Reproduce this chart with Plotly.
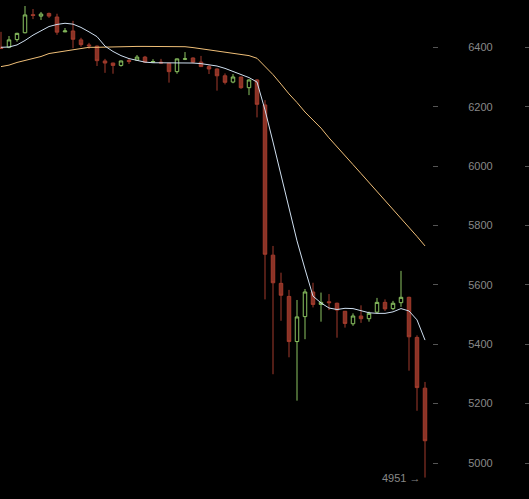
import plotly.graph_objects as go

# candle index positions
idx = list(range(54))

opens = [6400, 6400, 6426, 6449, 6510, 6505, 6514, 6502, 6452, 6455,
         6425, 6408, 6404, 6354, 6347, 6339, 6356, 6357, 6367, 6350,
         6350, 6346, 6318, 6360, 6364, 6350, 6335, 6327, 6304, 6283,
         6300, 6264, 6290, 6206, 5700, 5605, 5561, 5409, 5493, 5576,
         5534, 5543, 5538, 5511, 5469, 5495, 5486, 5508, 5541, 5520,
         5540, 5558, 5423, 5252]
highs = [6452, 6438, 6449, 6539, 6529, 6519, 6517, 6513, 6465, 6489,
         6432, 6415, 6406, 6361, 6348, 6355, 6361, 6374, 6371, 6360,
         6361, 6347, 6362, 6384, 6366, 6371, 6340, 6329, 6312, 6310,
         6301, 6292, 6293, 6222, 5731, 5641, 5583, 5549, 5586, 5607,
         5574, 5569, 5540, 5512, 5504, 5531, 5510, 5556, 5551, 5546,
         5647, 5560, 5430, 5273]
lows = [6394, 6397, 6419, 6447, 6495, 6492, 6499, 6442, 6451, 6397,
        6402, 6395, 6337, 6314, 6311, 6335, 6344, 6355, 6349, 6349,
        6345, 6281, 6311, 6357, 6346, 6334, 6310, 6254, 6275, 6279,
        6260, 6239, 6164, 5551, 5299, 5479, 5356, 5210, 5417, 5524,
        5476, 5515, 5422, 5456, 5462, 5472, 5476, 5504, 5512, 5515,
        5526, 5311, 5176, 4951]
closes = [6396, 6425, 6447, 6509, 6507, 6512, 6505, 6451, 6455, 6427,
          6409, 6405, 6355, 6347, 6339, 6354, 6352, 6367, 6350, 6352,
          6347, 6318, 6361, 6361, 6350, 6335, 6327, 6304, 6282, 6300,
          6264, 6290, 6208, 5703, 5607, 5565, 5409, 5492, 5576, 5534,
          5541, 5540, 5515, 5470, 5495, 5486, 5504, 5541, 5519, 5538,
          5558, 5425, 5254, 5075]

ma_short = [6400, 6401, 6408, 6423, 6441, 6455, 6470, 6477, 6481, 6478,
            6467, 6452, 6436, 6404, 6386, 6372, 6362, 6356, 6350, 6348,
            6348, 6347, 6348, 6348, 6347, 6345, 6342, 6337, 6329, 6318,
            6309, 6298, 6283, 6189, 6081, 5973, 5855, 5748, 5653, 5562,
            5539, 5522, 5517, 5521, 5520, 5512, 5506, 5504, 5504, 5509,
            5520, 5512, 5482, 5414]
ma_long = [6335, 6340, 6349, 6356, 6363, 6369, 6379, 6383, 6388, 6393,
           6397, 6400, 6400, 6401, 6401, 6402, 6402, 6403, 6403, 6403,
           6404, 6404, 6404, 6402, 6399, 6395, 6392, 6388, 6384, 6381,
           6377, 6372, 6363, 6337, 6308, 6276, 6243, 6214, 6182, 6155,
           6128, 6095, 6064, 6034, 6005, 5975, 5945, 5914, 5884, 5854,
           5823, 5793, 5763, 5731]

y_ticks = [5000, 5200, 5400, 5600, 5800, 6000, 6200, 6400]

fig = go.Figure()
fig.add_trace(go.Candlestick(
    x=idx, open=opens, high=highs, low=lows, close=closes,
    increasing=dict(line=dict(color="#8cc462", width=1), fillcolor="rgba(0,0,0,0)"),
    decreasing=dict(line=dict(color="#a23b2c", width=1), fillcolor="#8a3326"),
    whiskerwidth=0, hoverinfo="skip", showlegend=False,
))
fig.add_trace(go.Scatter(x=idx, y=ma_long, mode="lines",
                         line=dict(color="#f0bf78", width=1),
                         hoverinfo="skip", showlegend=False))
fig.add_trace(go.Scatter(x=idx, y=ma_short, mode="lines",
                         line=dict(color="#cfdff0", width=1),
                         hoverinfo="skip", showlegend=False))
fig.add_trace(go.Scatter(x=[idx[0]], y=[None], yaxis="y2",
                         hoverinfo="skip", showlegend=False))

yr = [4878.8, 6559.3]
fig.update_layout(
    width=529, height=499,
    margin=dict(l=0, r=0, t=0, b=0),
    paper_bgcolor="#000000", plot_bgcolor="#000000",
    boxgap=0.38,
    xaxis=dict(domain=[0, 432 / 529], range=[-0.125, 53.875],
               showgrid=False, zeroline=False, showticklabels=False,
               showline=False, ticks="", rangeslider=dict(visible=False)),
    yaxis=dict(side="right", range=yr, tickvals=y_ticks,
               ticktext=[str(v) for v in y_ticks],
               showgrid=False, zeroline=False, showline=False,
               ticks="outside", ticklen=5, tickwidth=1, tickcolor="#555555",
               ticklabelstandoff=28,
               tickfont=dict(family="Liberation Sans", size=11, color="#888888")),
    yaxis2=dict(overlaying="y", anchor="free", position=1, side="right",
                range=yr, tickvals=y_ticks, showticklabels=False,
                showgrid=False, zeroline=False, showline=False,
                ticks="inside", ticklen=4, tickwidth=1, tickcolor="#555555"),
    annotations=[dict(x=idx[-1], y=lows[-1], xref="x", yref="y",
                      text=f"{lows[-1]} →", showarrow=False,
                      xanchor="right", yanchor="middle", xshift=-2,
                      font=dict(family="Liberation Sans", size=11, color="#888888"))],
)

fig.write_html(
    "out.html",
    config={"displayModeBar": False, "staticPlot": True},
    post_script="document.body.style.margin='0';document.body.style.overflow='hidden';document.body.style.background='#000';",
)
